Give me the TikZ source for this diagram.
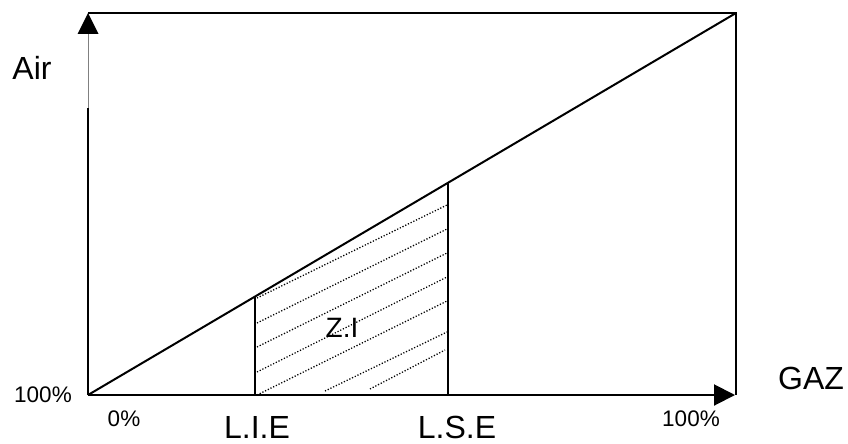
\documentclass[tikz,border=0pt]{standalone}
\usepackage{fontspec}
\setmainfont{Liberation Sans}
\usetikzlibrary{arrows.meta}
\begin{document}
\begin{tikzpicture}[x=1pt,y=-1pt,
  thick line/.style={line width=2pt,black},
  thin axis/.style={line width=0.9pt,black!50},
  hatch/.style={line width=1.3pt,dash pattern=on 1.2pt off 1.8pt},
  big label/.style={font=\fontsize{32}{32}\selectfont,inner sep=0pt},
  small label/.style={font=\fontsize{22.5}{22.5}\selectfont,inner sep=0pt},
  tip/.style={-{Triangle[width=21pt,length=21pt]}}]
\useasboundingbox (0,0) rectangle (848,444);
% corners
\coordinate (O) at (88,395);
\coordinate (TL) at (88,13);
\coordinate (TR) at (736,13);
\coordinate (BR) at (736,395);
\coordinate (Xend) at (735,395);
\coordinate (Ybreak) at (88,108);
\coordinate (LIEb) at (255,395);
\coordinate (LIEt) at (255,297);
\coordinate (LSEb) at (448,395);
\coordinate (LSEt) at (448,182);
% axes
\draw[thick line] (O) -- (Ybreak);
\draw[thin axis] (Ybreak) -- (88,34);
\fill (TL) -- (77.5,34) -- (98.5,34) -- cycle;
\draw[thick line,tip] (O) -- (Xend);
\draw[thick line] (TL) -- (TR) -- (BR);
\draw[thick line] (O) -- (TR);
% limits
\draw[thick line] (LIEb) -- (LIEt);
\draw[thick line] (LSEb) -- (LSEt);
% hatching
\foreach \a/\b/\c/\d in {257/298/447/205, 257/323/447/229, 257/347/447/253,
  257/372/447/277, 257/395/447/301, 325/391/447/332, 370/389/445/350}
  \draw[hatch] (\a,\b) -- (\c,\d);
% labels
\node[big label] (air) at (32,68) {Air};
\node[big label] (gaz) at (811,378) {GAZ};
\node[big label] (lie) at (257,427) {L.I.E};
\node[big label] (lse) at (457,427) {L.S.E};
\node[font=\fontsize{28}{28}\selectfont,inner sep=0pt] (zi) at (342,328) {Z.I};
\node[small label] (p100l) at (43,395) {100\%};
\node[small label] (p0) at (124,419) {0\%};
\node[small label] (p100r) at (691,419) {100\%};
\end{tikzpicture}
\end{document}
